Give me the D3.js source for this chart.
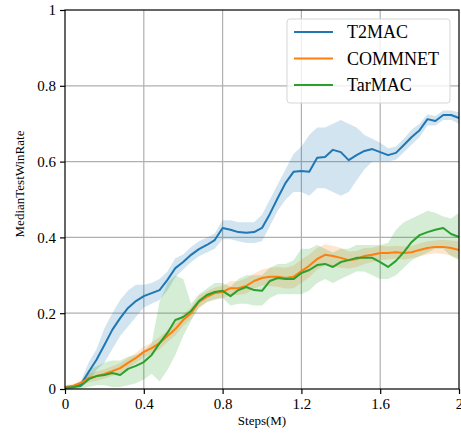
<!DOCTYPE html>
<html>
<head>
<meta charset="utf-8">
<script src="https://cdn.jsdelivr.net/npm/d3@7"></script>
<style>
  body { margin: 0; background: #fff; }
  text { font-family: "Liberation Serif", "Times New Roman", serif; }
</style>
</head>
<body>
<script>
// steps in millions
var steps = [0,0.04,0.08,0.12,0.16,0.2,0.24,0.28,0.32,0.36,0.4,0.44,0.48,0.52,0.56,0.6,0.64,0.68,0.72,0.76,0.8,0.84,0.88,0.92,0.96,1.0,1.04,1.08,1.12,1.16,1.2,1.24,1.28,1.32,1.36,1.4,1.44,1.48,1.52,1.56,1.6,1.64,1.68,1.72,1.76,1.8,1.84,1.88,1.92,1.96,2.0]

var t2mac    = [0.003,0.005,0.011,0.045,0.077,0.116,0.156,0.187,0.214,0.232,0.245,0.253,0.261,0.288,0.319,0.335,0.354,0.369,0.380,0.393,0.425,0.420,0.414,0.412,0.414,0.425,0.462,0.504,0.544,0.573,0.575,0.573,0.610,0.612,0.631,0.625,0.604,0.617,0.628,0.633,0.625,0.617,0.623,0.644,0.665,0.683,0.712,0.707,0.723,0.723,0.715]
var t2macLo  = [0,0,0.005,0.02,0.05,0.07,0.105,0.14,0.165,0.19,0.215,0.225,0.235,0.26,0.295,0.315,0.335,0.35,0.36,0.37,0.395,0.395,0.39,0.385,0.385,0.39,0.43,0.47,0.5,0.52,0.52,0.51,0.53,0.53,0.52,0.51,0.52,0.55,0.58,0.6,0.6,0.6,0.605,0.625,0.645,0.665,0.695,0.695,0.71,0.71,0.7]
var t2macHi  = [0.008,0.01,0.02,0.07,0.105,0.16,0.2,0.235,0.26,0.275,0.275,0.28,0.29,0.31,0.345,0.355,0.375,0.39,0.4,0.41,0.445,0.445,0.44,0.44,0.44,0.46,0.5,0.54,0.58,0.62,0.64,0.67,0.69,0.69,0.7,0.71,0.7,0.69,0.67,0.66,0.65,0.635,0.64,0.66,0.685,0.7,0.725,0.72,0.735,0.735,0.73]

var commnet   = [0.005,0.008,0.016,0.029,0.034,0.04,0.047,0.055,0.069,0.082,0.098,0.108,0.121,0.14,0.158,0.182,0.2,0.23,0.243,0.253,0.256,0.266,0.266,0.272,0.285,0.293,0.296,0.296,0.293,0.296,0.311,0.325,0.343,0.354,0.351,0.346,0.34,0.343,0.351,0.354,0.359,0.359,0.361,0.359,0.361,0.367,0.372,0.375,0.375,0.372,0.367]
var commnetLo = [0,0.003,0.01,0.018,0.022,0.028,0.034,0.042,0.056,0.069,0.084,0.093,0.105,0.124,0.142,0.166,0.185,0.214,0.228,0.238,0.24,0.248,0.248,0.252,0.265,0.273,0.272,0.27,0.265,0.266,0.28,0.295,0.315,0.326,0.324,0.32,0.318,0.322,0.33,0.335,0.34,0.342,0.344,0.342,0.345,0.35,0.355,0.358,0.356,0.352,0.345]
var commnetHi = [0.01,0.013,0.022,0.04,0.046,0.052,0.06,0.068,0.082,0.095,0.112,0.123,0.137,0.156,0.174,0.198,0.215,0.246,0.258,0.268,0.272,0.284,0.284,0.292,0.305,0.315,0.32,0.322,0.32,0.326,0.342,0.355,0.372,0.382,0.378,0.372,0.362,0.364,0.372,0.373,0.378,0.376,0.378,0.376,0.377,0.384,0.39,0.392,0.394,0.392,0.39]

var tarmac   = [0.003,0.005,0.008,0.026,0.034,0.037,0.042,0.037,0.053,0.061,0.071,0.09,0.121,0.148,0.182,0.19,0.206,0.232,0.248,0.256,0.259,0.245,0.261,0.269,0.261,0.259,0.285,0.293,0.29,0.29,0.306,0.314,0.327,0.33,0.322,0.335,0.34,0.346,0.346,0.346,0.335,0.322,0.338,0.361,0.388,0.406,0.414,0.42,0.425,0.409,0.401]
var tarmacLo = [0,0,0,0.005,0.01,0.01,0.005,0.005,0.01,0.015,0.025,0.04,0.02,0.05,0.09,0.14,0.18,0.215,0.23,0.235,0.24,0.22,0.225,0.225,0.22,0.22,0.24,0.25,0.25,0.25,0.25,0.26,0.28,0.29,0.28,0.29,0.3,0.31,0.31,0.3,0.29,0.29,0.3,0.32,0.34,0.35,0.36,0.37,0.37,0.35,0.34]
var tarmacHi = [0.008,0.01,0.02,0.05,0.06,0.07,0.075,0.075,0.085,0.09,0.1,0.12,0.23,0.28,0.3,0.29,0.225,0.25,0.265,0.28,0.28,0.27,0.29,0.3,0.3,0.3,0.32,0.33,0.33,0.34,0.37,0.37,0.38,0.37,0.36,0.37,0.37,0.38,0.38,0.38,0.38,0.385,0.42,0.44,0.45,0.46,0.47,0.465,0.455,0.45,0.465]

var names = ['T2MAC', 'COMMNET', 'TarMAC']
var colors = ['#1f77b4', '#ff7f0e', '#2ca02c']
var xTicks = [0, 0.4, 0.8, 1.2, 1.6, 2]
var yTicks = [0, 0.2, 0.4, 0.6, 0.8, 1]

var series = [
  { name: names[0], mid: t2mac, lo: t2macLo, hi: t2macHi, color: colors[0] },
  { name: names[1], mid: commnet, lo: commnetLo, hi: commnetHi, color: colors[1] },
  { name: names[2], mid: tarmac, lo: tarmacLo, hi: tarmacHi, color: colors[2] }
]

var width = 461, height = 438
var margin = { left: 65, right: 2, top: 10, bottom: 49 }

var svg = d3.select('body').append('svg')
  .attr('width', width)
  .attr('height', height)

var x = d3.scaleLinear().domain([0, 2]).range([margin.left, width - margin.right])
var y = d3.scaleLinear().domain([0, 1]).range([height - margin.bottom, margin.top])

// grid
svg.append('g').selectAll('line')
  .data(xTicks.slice(1, -1))
  .enter().append('line')
    .attr('x1', d => x(d)).attr('x2', d => x(d))
    .attr('y1', y(0)).attr('y2', y(1))
    .attr('stroke', '#b0b0b0').attr('stroke-width', 1.2)
svg.append('g').selectAll('line')
  .data(yTicks.slice(1, -1))
  .enter().append('line')
    .attr('x1', x(0)).attr('x2', x(2))
    .attr('y1', d => y(d)).attr('y2', d => y(d))
    .attr('stroke', '#b0b0b0').attr('stroke-width', 1.2)

var area = d3.area()
  .x((d, i) => x(steps[i]))
  .y0(d => y(d[0]))
  .y1(d => y(d[1]))

var line = d3.line()
  .x((d, i) => x(steps[i]))
  .y(d => y(d))

series.forEach(function(s) {
  svg.append('path')
    .datum(s.lo.map((v, i) => [v, s.hi[i]]))
    .attr('d', area)
    .attr('fill', s.color)
    .attr('fill-opacity', 0.2)
})

series.forEach(function(s) {
  svg.append('path')
    .datum(s.mid)
    .attr('d', line)
    .attr('fill', 'none')
    .attr('stroke', s.color)
    .attr('stroke-width', 2)
    .attr('stroke-linejoin', 'round')
})

// frame
svg.append('rect')
  .attr('x', x(0)).attr('y', y(1))
  .attr('width', x(2) - x(0)).attr('height', y(0) - y(1))
  .attr('fill', 'none').attr('stroke', '#000').attr('stroke-width', 1.2)

var fmt = d => d3.format('~g')(d)

var xAxis = svg.append('g')
  .attr('transform', 'translate(0,' + y(0) + ')')
  .call(d3.axisBottom(x).tickValues(xTicks).tickFormat(fmt).tickSize(5).tickPadding(4))
var yAxis = svg.append('g')
  .attr('transform', 'translate(' + x(0) + ',0)')
  .call(d3.axisLeft(y).tickValues(yTicks).tickFormat(fmt).tickSize(5).tickPadding(4))

;[xAxis, yAxis].forEach(function(a) {
  a.select('.domain').remove()
  a.selectAll('line').attr('stroke', '#000').attr('stroke-width', 1.2)
  a.selectAll('text')
    .attr('fill', '#000')
    .style('font-family', '"Liberation Serif", serif')
    .style('font-size', '15px')
})

svg.append('text')
  .attr('x', x(1)).attr('y', 425)
  .attr('text-anchor', 'middle')
  .style('font-size', '13px')
  .text('Steps(M)')

svg.append('text')
  .attr('transform', 'translate(24,184) rotate(-90)')
  .attr('text-anchor', 'middle')
  .style('font-size', '13px')
  .text('MedianTestWinRate')

// legend
var lg = svg.append('g').attr('transform', 'translate(287,19)')
lg.append('rect')
  .attr('width', 163).attr('height', 84)
  .attr('rx', 3)
  .attr('fill', '#fff').attr('fill-opacity', 0.8)
  .attr('stroke', '#d5d5d5')
series.forEach(function(s, i) {
  var yy = 13 + i * 26.5
  lg.append('line')
    .attr('x1', 7).attr('x2', 46)
    .attr('y1', yy).attr('y2', yy)
    .attr('stroke', s.color).attr('stroke-width', 2)
  lg.append('text')
    .attr('x', 60).attr('y', yy + 6)
    .style('font-size', '18px')
    .text(s.name)
})
</script>
</body>
</html>
